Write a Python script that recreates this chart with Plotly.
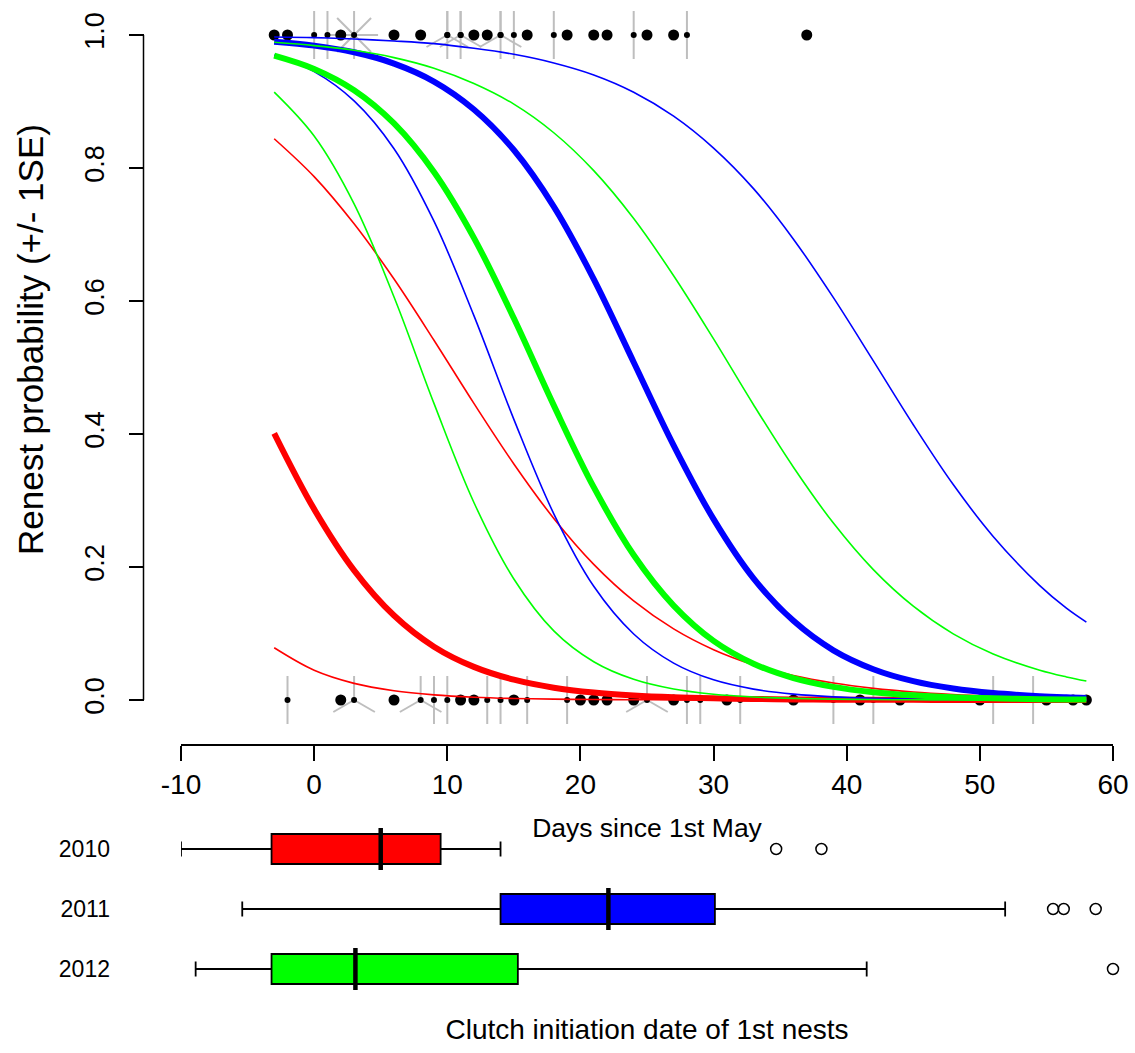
import math
import plotly.graph_objects as go

# ---------------- data ----------------
days = [-3, 0, 3, 6, 9, 12, 15, 18, 21, 24, 27, 30, 33, 36, 39, 42, 45, 48, 51, 54.5, 56.5, 58]

fit_2010 = [0.401, 0.287, 0.195, 0.127, 0.0802, 0.0498, 0.0305, 0.0185, 0.0112, 0.0068, 0.0041,
            0.0025, 0.0015, 0.0009, 0.0005, 0.0003, 0.0002, 0.0001, 0.0001, 0.0, 0.0, 0.0]
up_2010 = [0.844, 0.787, 0.716, 0.633, 0.541, 0.446, 0.355, 0.273, 0.204, 0.149, 0.107,
           0.0757, 0.0530, 0.0368, 0.0255, 0.0175, 0.0120, 0.0083, 0.0057, 0.0036, 0.0028, 0.0023]
lo_2010 = [0.0785, 0.0447, 0.0250, 0.0139, 0.0077, 0.0042, 0.0023, 0.0013, 0.0007, 0.0004, 0.0002,
           0.0001, 0.0001, 0.0, 0.0, 0.0, 0.0, 0.0, 0.0, 0.0, 0.0, 0.0]

fit_2011 = [0.990, 0.984, 0.974, 0.957, 0.930, 0.888, 0.827, 0.742, 0.633, 0.508, 0.383,
            0.272, 0.183, 0.119, 0.0747, 0.0463, 0.0283, 0.0172, 0.0104, 0.0058, 0.0041, 0.0032]
up_2011 = [0.997, 0.996, 0.994, 0.991, 0.987, 0.980, 0.971, 0.958, 0.940, 0.914, 0.878,
           0.830, 0.769, 0.693, 0.605, 0.510, 0.414, 0.324, 0.246, 0.172, 0.138, 0.117]
lo_2011 = [0.970, 0.945, 0.901, 0.829, 0.720, 0.578, 0.422, 0.280, 0.171, 0.0993, 0.0555,
           0.0303, 0.0164, 0.0088, 0.0047, 0.0025, 0.0013, 0.0007, 0.0004, 0.0002, 0.0001, 0.0001]

fit_2012 = [0.969, 0.949, 0.917, 0.867, 0.794, 0.695, 0.574, 0.443, 0.320, 0.218, 0.142,
            0.0889, 0.0546, 0.0330, 0.0198, 0.0118, 0.0070, 0.0042, 0.0025, 0.0013, 0.0009, 0.0007]
up_2012 = [0.989, 0.984, 0.977, 0.966, 0.950, 0.927, 0.896, 0.853, 0.796, 0.724, 0.638,
           0.543, 0.444, 0.350, 0.266, 0.196, 0.141, 0.0994, 0.0691, 0.0447, 0.0347, 0.0286]
lo_2012 = [0.914, 0.848, 0.746, 0.606, 0.446, 0.297, 0.182, 0.104, 0.0576, 0.0311, 0.0165,
           0.0087, 0.0046, 0.0024, 0.0013, 0.0007, 0.0003, 0.0002, 0.0001, 0.0, 0.0, 0.0]

# observed renesting outcomes (sunflower plot): day and number of coinciding nests
top_days = [-3, -2, 0, 1, 2, 3, 6, 8, 10, 10, 11, 11, 12, 13, 14, 14, 15, 16, 18, 19, 21, 22, 24, 25, 27, 28, 37]
top_counts = [1, 1, 2, 2, 1, 8, 1, 1, 3, 2, 3, 2, 1, 1, 3, 2, 2, 1, 2, 1, 1, 1, 2, 1, 1, 2, 1]
bot_days = [-2, 2, 3, 6, 8, 9, 10, 11, 12, 13, 14, 15, 16, 19, 20, 21, 22, 24, 25, 27, 28, 29, 31, 32,
            36, 39, 41, 42, 44, 50, 51, 54, 55, 57, 58]
bot_counts = [2, 1, 3, 1, 3, 2, 2, 1, 1, 2, 2, 1, 2, 2, 1, 1, 1, 1, 3, 1, 2, 2, 1, 2,
              1, 2, 1, 2, 1, 1, 2, 2, 1, 1, 1]

# boxplot statistics of clutch initiation dates
years = ["2010", "2011", "2012"]
box_colors = ["#FF0000", "#0000FF", "#00FF00"]
lowerfence = [-10.0, -5.4, -8.9]
q1 = [-3.2, 14.0, -3.2]
median = [5.0, 22.1, 3.1]
q3 = [9.5, 30.1, 15.3]
upperfence = [14.0, 51.9, 41.5]
outlier_years = ["2010", "2010", "2011", "2011", "2011", "2012"]
outlier_vals = [34.7, 38.1, 55.5, 56.3, 58.7, 60.0]

x_ticks = [-10, 0, 10, 20, 30, 40, 50, 60]
x_ticktext = ["-10", "0", "10", "20", "30", "40", "50", "60"]
y_ticks = [0, 0.2, 0.4, 0.6, 0.8, 1.0]
y_ticktext = ["0.0", "0.2", "0.4", "0.6", "0.8", "1.0"]

# ---------------- layout geometry ----------------
W, H = 1135, 1053
FONT = "Liberation Sans, Arial, sans-serif"
X_RANGE = [-10, 60]
X_DOM = [181 / W, 1113 / W]
Y_RANGE = [-0.045, 1.045]
Y_TOP_PX0, Y_TOP_PX1 = 700 + 0.045 * 665, 35 - 0.045 * 665
Y_DOM = [1 - Y_TOP_PX0 / H, 1 - Y_TOP_PX1 / H]
px_per_x = (X_DOM[1] - X_DOM[0]) * W / (X_RANGE[1] - X_RANGE[0])
px_per_y = (Y_DOM[1] - Y_DOM[0]) * H / (Y_RANGE[1] - Y_RANGE[0])

fig = go.Figure()

# sunflower petals
PETAL = 24
px, py = [], []
for ys, ds, cs in ((1.0, top_days, top_counts), (0.0, bot_days, bot_counts)):
    for d, c in zip(ds, cs):
        if c < 2:
            continue
        for k in range(c):
            a = math.pi / 2 + 2 * math.pi * k / c
            px += [d, d + PETAL * math.cos(a) / px_per_x, None]
            py += [ys, ys + PETAL * math.sin(a) / px_per_y, None]
fig.add_trace(go.Scatter(x=px, y=py, mode="lines", line=dict(color="#BEBEBE", width=2),
                         hoverinfo="skip", showlegend=False))

# sunflower centres
for ys, ds, cs in ((1.0, top_days, top_counts), (0.0, bot_days, bot_counts)):
    xs_single = [d for d, c in zip(ds, cs) if c == 1]
    xs_multi = [d for d, c in zip(ds, cs) if c > 1]
    fig.add_trace(go.Scatter(x=xs_single, y=[ys] * len(xs_single), mode="markers",
                             marker=dict(color="black", size=11), cliponaxis=False, showlegend=False))
    fig.add_trace(go.Scatter(x=xs_multi, y=[ys] * len(xs_multi), mode="markers",
                             marker=dict(color="black", size=6), cliponaxis=False, showlegend=False))

# fitted curves +/- 1 SE
curves = [
    ("#FF0000", fit_2010, up_2010, lo_2010),
    ("#0000FF", fit_2011, up_2011, lo_2011),
    ("#00FF00", fit_2012, up_2012, lo_2012),
]
for col, fit, up, lo in curves:
    for ser in (up, lo):
        fig.add_trace(go.Scatter(x=days, y=ser, mode="lines", line=dict(color=col, width=1.6, shape="spline"),
                                 showlegend=False))
    fig.add_trace(go.Scatter(x=days, y=fit, mode="lines", line=dict(color=col, width=6, shape="spline"),
                             showlegend=False))

# boxplots
for i, yr in enumerate(years):
    fig.add_trace(go.Box(y=[yr], q1=[q1[i]], median=[median[i]], q3=[q3[i]],
                         lowerfence=[lowerfence[i]], upperfence=[upperfence[i]],
                         orientation="h", fillcolor=box_colors[i],
                         line=dict(color="black", width=1.8), whiskerwidth=0.5, width=0.5,
                         boxpoints=False, xaxis="x2", yaxis="y2", showlegend=False))
fig.add_trace(go.Scatter(x=median, y=years, mode="markers", xaxis="x2", yaxis="y2",
                         marker=dict(symbol="line-ns", size=30, line=dict(color="black", width=4.5)),
                         showlegend=False))
fig.add_trace(go.Scatter(x=outlier_vals, y=outlier_years, mode="markers", xaxis="x2", yaxis="y2",
                         marker=dict(symbol="circle-open", size=11, color="black", line=dict(width=1.5)),
                         cliponaxis=False, showlegend=False))

Y_AXIS_POS = 143.5 / W
fig.add_shape(type="line", xref="paper", yref="y", x0=Y_AXIS_POS, x1=Y_AXIS_POS, y0=0, y1=1,
              line=dict(color="black", width=1.5))

# y-axis title (placed as in the original, slightly above the centre of the axis)
fig.add_annotation(text="Renest probability (+/- 1SE)", xref="paper", yref="paper",
                   x=30 / W, y=1 - 340 / H, textangle=-90, showarrow=False,
                   xanchor="center", yanchor="middle", font=dict(size=35))

fig.update_layout(
    width=W, height=H, margin=dict(l=0, r=0, t=0, b=0, autoexpand=False),
    paper_bgcolor="white", plot_bgcolor="white",
    font=dict(family=FONT, color="black"),
    xaxis=dict(domain=X_DOM, range=X_RANGE, anchor="free", position=1 - 745 / H, automargin=False,
               showgrid=False, zeroline=False, showline=True, linecolor="black", linewidth=1.5,
               ticks="outside", ticklen=15, tickwidth=1.5, tickcolor="black",
               tickvals=x_ticks, ticktext=x_ticktext, tickfont=dict(size=28),
               ticklabelstandoff=0,
               title=dict(text="Days since 1st May", font=dict(size=26.5), standoff=18)),
    yaxis=dict(domain=Y_DOM, range=Y_RANGE, anchor="free", position=Y_AXIS_POS, automargin=False,
               showgrid=False, zeroline=False, showline=False,
               ticks="outside", ticklen=15, tickwidth=1.5, tickcolor="black",
               tickvals=y_ticks, ticktext=y_ticktext,
               tickangle=-90, tickfont=dict(size=27), ticklabelstandoff=14),
    xaxis2=dict(domain=X_DOM, range=X_RANGE, anchor="y2", automargin=False, showgrid=False, zeroline=False,
                showline=False, showticklabels=False, ticks="",
                title=dict(text="Clutch initiation date of 1st nests", font=dict(size=28), standoff=20)),
    yaxis2=dict(domain=[1 - 999 / H, 1 - 819 / H], anchor="free", position=112 / W, automargin=False,
                type="category", categoryorder="array", categoryarray=years, range=[2.5, -0.5],
                showgrid=False, zeroline=False, showline=False, ticks="",
                tickfont=dict(size=23), ticklabelstandoff=2),
)

fig.write_html("out.html")
